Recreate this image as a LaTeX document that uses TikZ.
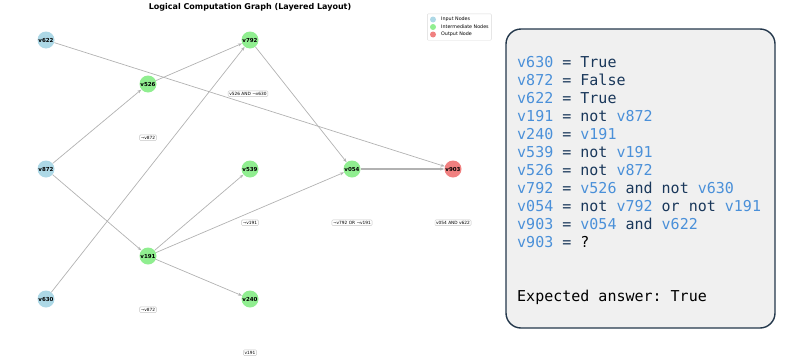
\documentclass[tikz,border=0pt]{standalone}
\usepackage{fontspec}
\setmainfont{DejaVu Sans}
\setmonofont{DejaVu Sans Mono}
\usepackage{tikz}
\usetikzlibrary{arrows.meta,positioning,fit}
\definecolor{inblue}{RGB}{173,216,230}
\definecolor{midgreen}{RGB}{144,238,144}
\definecolor{outred}{RGB}{240,128,128}
\definecolor{edgegray}{RGB}{178,178,178}
\definecolor{panelfill}{RGB}{240,240,240}
\definecolor{panelline}{RGB}{35,55,75}
\definecolor{varblue}{RGB}{74,144,217}
\definecolor{codedark}{RGB}{25,55,90}
\newcommand{\vn}[1]{\textcolor{varblue}{#1}}
\tikzset{
  var/.style={circle,minimum size=17pt,inner sep=0pt,font=\fontsize{5.5}{6}\selectfont\bfseries},
  invar/.style={var,fill=inblue},
  midvar/.style={var,fill=midgreen},
  outvar/.style={var,fill=outred},
  flow/.style={-{Stealth[length=4pt,width=3pt]},draw=edgegray,line width=0.7pt},
  formula/.style={draw=gray!45,fill=white,rounded corners=1pt,inner sep=1.2pt,font=\fontsize{4.3}{4.8}\selectfont},
  keydot/.style={circle,minimum size=6pt,inner sep=0pt},
  keytext/.style={anchor=west,inner sep=0pt,font=\fontsize{4.8}{5.3}\selectfont},
  codeline/.style={anchor=base west,inner sep=0pt,font=\ttfamily\fontsize{15}{18}\selectfont,text=codedark}
}
\begin{document}
\begin{tikzpicture}[x=1pt,y=-1pt]
    \useasboundingbox (0,0) rectangle (797,359);
    \node[font=\fontsize{8}{9}\selectfont\bfseries] (title) at (250,7) {Logical Computation Graph (Layered Layout)};

    % layer 0: inputs
    \node[invar] (v622) at (46,40) {v622};
    \node[invar] (v872) at (46,169) {v872};
    \node[invar] (v630) at (46,299) {v630};
    % layer 1
    \node[midvar] (v526) at (148,84) {v526};
    \node[midvar] (v191) at (148,256) {v191};
    % layer 2
    \node[midvar] (v792) at (250,40) {v792};
    \node[midvar] (v539) at (250,169) {v539};
    \node[midvar] (v240) at (250,299) {v240};
    % layer 3 and output
    \node[midvar] (v054) at (352,169) {v054};
    \node[outvar] (v903) at (453,169) {v903};

    \draw[flow] (v622) -- (v903);
    \draw[flow] (v872) -- (v526);
    \draw[flow] (v872) -- (v191);
    \draw[flow] (v526) -- (v792);
    \draw[flow] (v630) -- (v792);
    \draw[flow] (v792) -- (v054);
    \draw[flow] (v191) -- (v539);
    \draw[flow] (v191) -- (v054);
    \draw[flow] (v191) -- (v240);
    \draw[flow,line width=1.1pt] (v054) -- (v903);

    % formulas under the nodes
    \node[formula,below=42pt of v526] (f526) {¬v872};
    \node[formula,below=42pt of v191] (f191) {¬v872};
    \node[formula,below=42pt of v792,xshift=-2pt] (f792) {v526 AND ¬v630};
    \node[formula,below=42pt of v539] (f539) {¬v191};
    \node[formula,below=42pt of v240] (f240) {v191};
    \node[formula,below=42pt of v054] (f054) {¬v792 OR ¬v191};
    \node[formula,below=42pt of v903] (f903) {v054 AND v622};

    % legend
    \node[keydot,fill=inblue] (kin) at (433,19.5) {};
    \node[keydot,fill=midgreen] (kmid) at (433,27) {};
    \node[keydot,fill=outred] (kout) at (433,34.5) {};
    \node[keytext] (tin) at (441,19.5) {Input Nodes};
    \node[keytext] (tmid) at (441,27) {Intermediate Nodes};
    \node[keytext] (tout) at (441,34.5) {Output Node};
    \node[draw=gray!30,rounded corners=1pt,inner sep=2.5pt,fit=(kin)(kout)(tmid)] (legend) {};

    % program panel
    \node[draw=panelline,fill=panelfill,line width=1.4pt,rounded corners=15pt,
          minimum width=269pt,minimum height=299pt] (panel) at (640.5,178.5) {};
    \foreach \txt [count=\i] in {
        {\vn{v630} = True},
        {\vn{v872} = False},
        {\vn{v622} = True},
        {\vn{v191} = not \vn{v872}},
        {\vn{v240} = \vn{v191}},
        {\vn{v539} = not \vn{v191}},
        {\vn{v526} = not \vn{v872}},
        {\vn{v792} = \vn{v526} and not \vn{v630}},
        {\vn{v054} = not \vn{v792} or not \vn{v191}},
        {\vn{v903} = \vn{v054} and \vn{v622}},
        {\vn{v903} = \textcolor{black}{?}}}
      \node[codeline] (line\i) at (517,49.5+18*\i) {\txt};
    \node[codeline,text=black] (answer) at (517,301) {Expected answer: True};
\end{tikzpicture}
\end{document}
